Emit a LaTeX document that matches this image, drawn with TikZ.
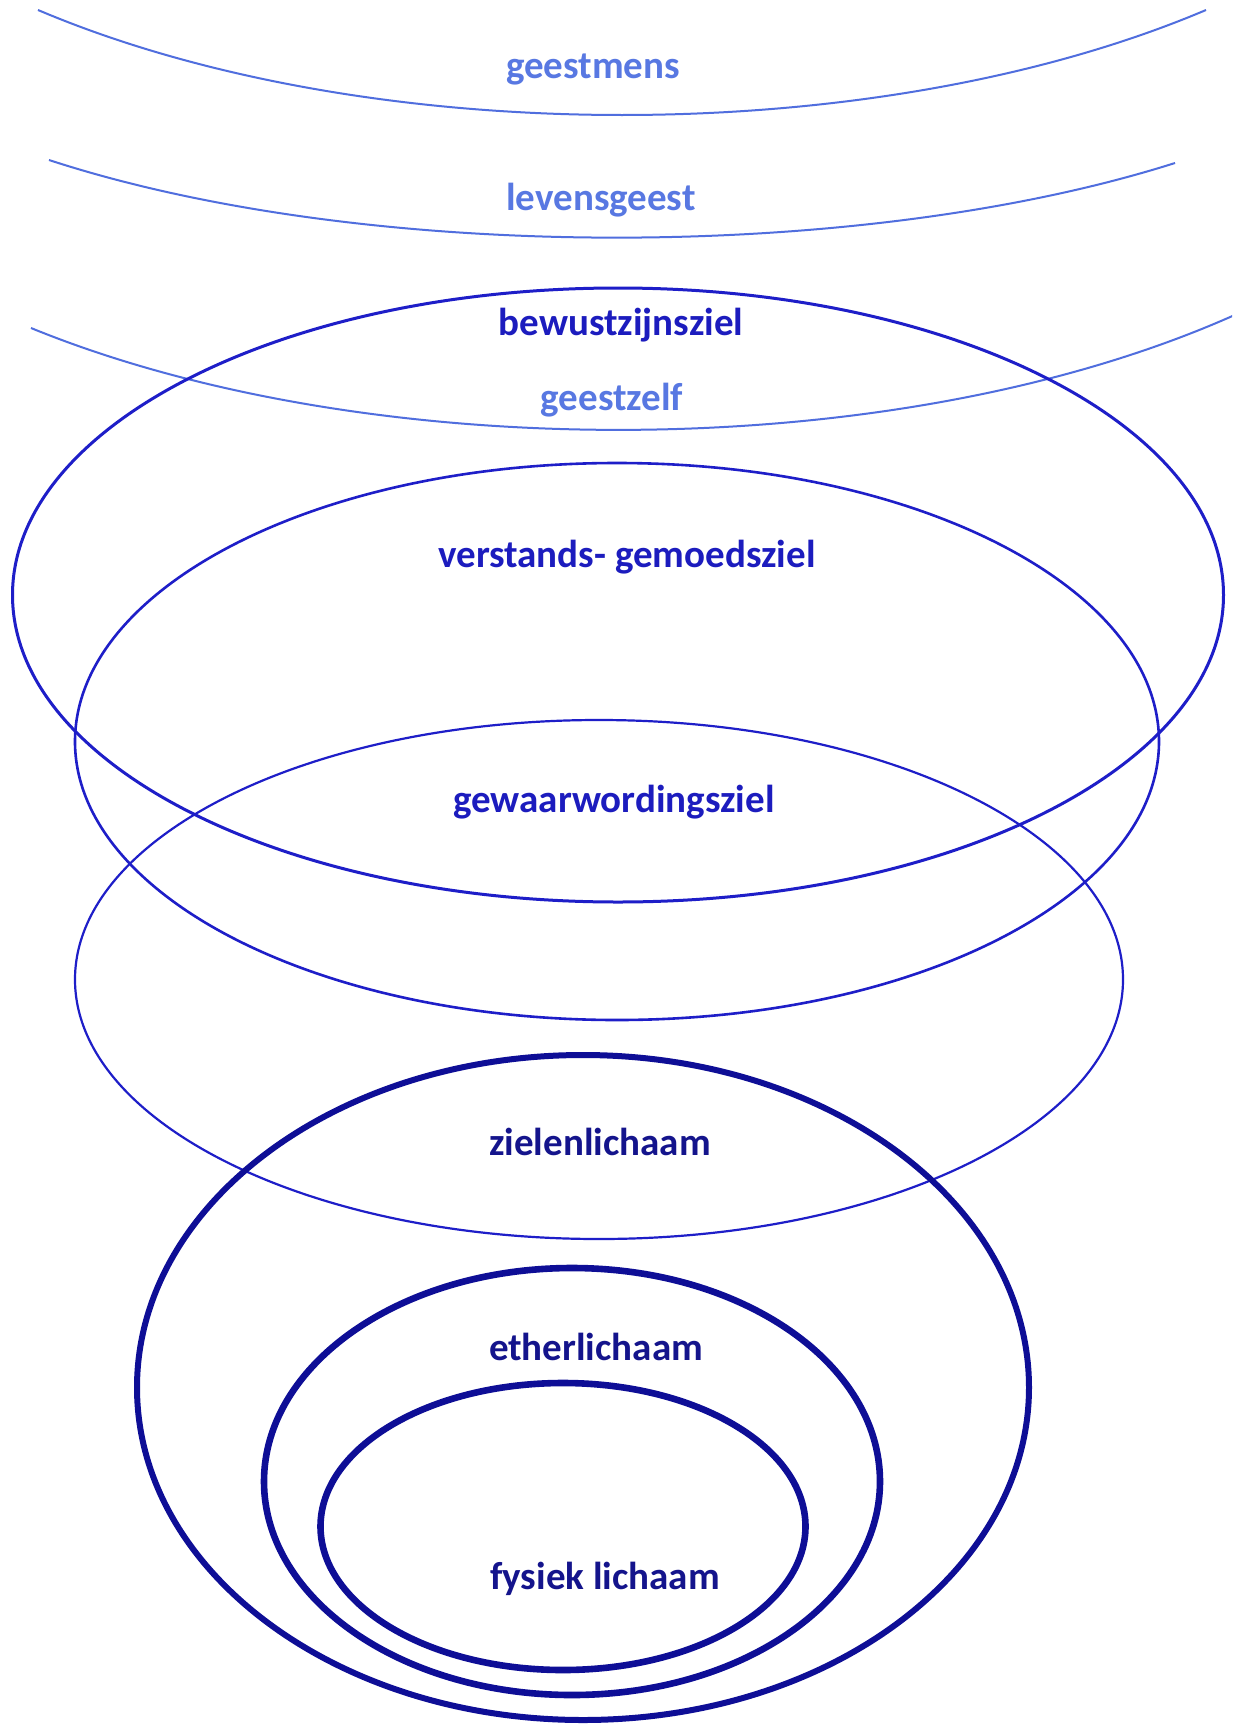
\documentclass[tikz,border=0pt]{standalone}
\usepackage{fontspec}
\setmainfont{Carlito}
\definecolor{lightblue}{RGB}{88,120,226}
\definecolor{arcblue}{RGB}{80,110,222}
\definecolor{midblue}{RGB}{30,30,200}
\definecolor{txtblue}{RGB}{28,28,190}
\definecolor{navy}{RGB}{20,20,140}
\definecolor{lowblue}{RGB}{14,14,150}
\begin{document}
\begin{tikzpicture}[x=0.5pt,y=-0.5pt,
  lbl/.style={font=\fontsize{19.5}{22}\selectfont\bfseries, anchor=base, inner sep=0pt},
  toparc/.style={draw=arcblue, line width=1pt},
  upperell/.style={draw=midblue},
  lowerell/.style={draw=lowblue}]
\useasboundingbox (0,0) rectangle (1232,1724);
\clip (0,0) rectangle (1232,1724);
\fill[white] (0,0) rectangle (1232,1724);

% top arcs
\draw[toparc] (38,10) .. controls (368,150) and (876,150) .. (1206,10);
\draw[toparc] (49,160) .. controls (364,263) and (860,263) .. (1175,163);
\draw[toparc] (31,328) .. controls (371,467) and (910,467) .. (1250,308);

% soul ellipses
\draw[upperell, line width=1.5pt] (618,595) ellipse [x radius=302.75pt, y radius=153.5pt];
\draw[upperell, line width=1.3pt] (617,741.5) ellipse [x radius=271pt, y radius=139.25pt];
\draw[upperell, line width=1.1pt] (599,979.5) ellipse [x radius=262pt, y radius=129.75pt];

% body ellipses
\draw[lowerell, line width=3pt] (583,1387.5) ellipse [x radius=223pt, y radius=166.25pt];
\draw[lowerell, line width=3.3pt] (572,1481.5) ellipse [x radius=154pt, y radius=106.75pt];
\draw[lowerell, line width=3.3pt] (563,1526.5) ellipse [x radius=121.25pt, y radius=71.75pt];

% labels
\node[lbl, text=lightblue] (geestmens) at (593,78) {geestmens};
\node[lbl, text=lightblue] (levensgeest) at (601,210) {levensgeest};
\node[lbl, text=txtblue] (bewustzijnsziel) at (621,335) {bewustzijnsziel};
\node[lbl, text=lightblue] (geestzelf) at (612,410) {geestzelf};
\node[lbl, text=txtblue] (verstands) at (627,567) {verstands- gemoedsziel};
\node[lbl, text=txtblue] (gewaar) at (614,812) {gewaarwordingsziel};
\node[lbl, text=navy] (zielen) at (600,1155) {zielenlichaam};
\node[lbl, text=navy] (ether) at (596,1360) {etherlichaam};
\node[lbl, text=navy] (fysiek) at (605,1589) {fysiek lichaam};
\end{tikzpicture}
\end{document}
